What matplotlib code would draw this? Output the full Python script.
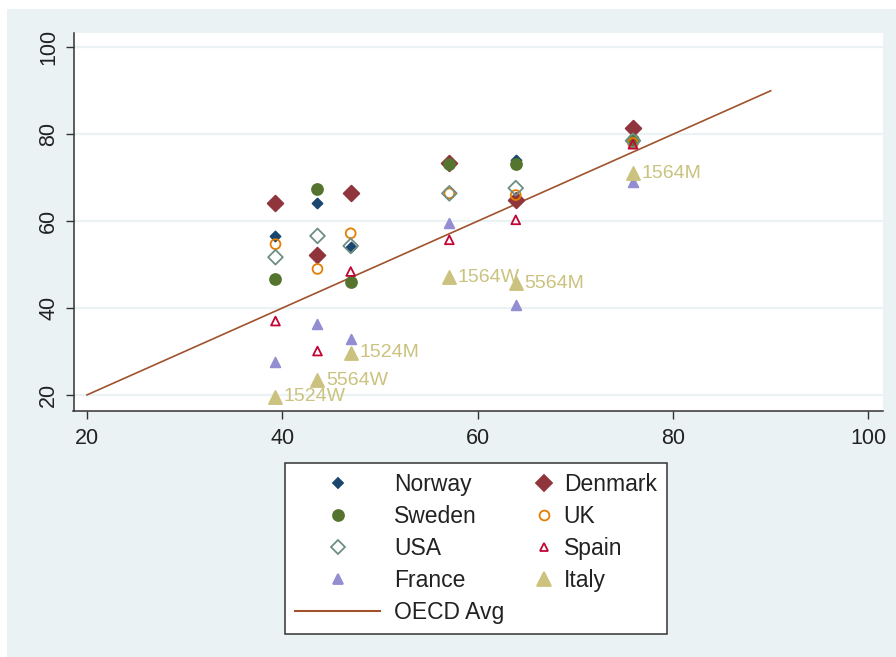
import matplotlib
matplotlib.use("Agg")
from matplotlib import pyplot as plt
from matplotlib.lines import Line2D
from matplotlib.patches import Rectangle
from matplotlib.legend_handler import HandlerLine2D

plt.rcParams['font.family'] = ['Liberation Sans', 'DejaVu Sans']

# Employment rates by age/sex group, against the OECD average for that group.
oecd_avg = [39.3, 43.6, 47.0, 57.1, 63.9, 75.9]
groups = ['1524W', '5564W', '1524M', '1564W', '5564M', '1564M']

norway = [56.6, 64.1, 54.1, 73.5, 74.0, 79.0]
denmark = [64.2, 52.2, 66.4, 73.3, 64.9, 81.5]
sweden = [46.7, 67.3, 46.1, 73.2, 73.1, 78.6]
uk = [54.7, 49.0, 57.2, 66.4, 66.0, 78.0]
usa = [51.7, 56.6, 54.3, 66.4, 67.6, 78.5]
spain = [37.0, 30.1, 48.4, 55.7, 60.3, 77.7]
france = [27.5, 36.3, 32.9, 59.6, 40.7, 69.1]
italy = [19.6, 23.4, 29.7, 47.1, 45.7, 71.0]

oecd_line_x = [20, 90]
oecd_line_y = [20, 90]

navy = '#1a476f'
maroon = '#90353b'
green = '#55752f'
orange = '#e37e00'
teal = '#6e8e84'
cranberry = '#c10534'
lavender = '#938dd2'
khaki = '#cac27e'
sienna = '#a0522d'
panel = '#eaf2f3'

fig = plt.figure(figsize=(8.96, 6.57), dpi=100)
fig.patch.set_facecolor('white')
fig.patches.append(Rectangle((7 / 896, 0), 1, 1 - 9 / 657, transform=fig.transFigure,
                             facecolor=panel, edgecolor='none', zorder=-5))

ax = fig.add_axes([73.5 / 896, 1 - 411 / 657, (883 - 73.5) / 896, (411 - 33) / 657])
ax.set_zorder(1)
ax.set_facecolor('white')

# series: (values, label, marker, size, face, edge)
series = [
    (norway, 'Norway', 'D', 26, navy, navy),
    (denmark, 'Denmark', 'D', 64, maroon, maroon),
    (sweden, 'Sweden', 'o', 62, green, green),
    (uk, 'UK', 'o', 50, 'none', orange),
    (usa, 'USA', 'D', 56, 'none', teal),
    (spain, 'Spain', '^', 40, 'none', cranberry),
    (france, 'France', '^', 48, lavender, lavender),
    (italy, 'Italy', '^', 88, khaki, khaki),
]

handles = {}
for vals, name, mk, s, fc, ec in series:
    ax.scatter(oecd_avg, vals, marker=mk, s=s, facecolors=fc, edgecolors=ec,
               linewidths=1.3, zorder=3)
    handles[name] = Line2D([], [], linestyle='None', marker=mk, markersize=s ** 0.5,
                           markerfacecolor=fc, markeredgecolor=ec, markeredgewidth=1.3)

ax.plot(oecd_line_x, oecd_line_y, color=sienna, linewidth=1.2, zorder=2)
handles['OECD Avg'] = Line2D([], [], color=sienna, linewidth=1.5)

for x, y, g in zip(oecd_avg, italy, groups):
    ax.annotate(g, (x, y), xytext=(6, 0), textcoords='offset points',
                va='center', ha='left', color=khaki, fontsize=14)

ax.set_xlim(18.62, 101.5)
ax.set_ylim(16.3, 103.3)
ax.set_xticks([20, 40, 60, 80, 100])
ax.set_yticks([20, 40, 60, 80, 100])
ax.grid(axis='y', color=panel, linewidth=1.6, zorder=1)
ax.set_axisbelow(True)

for side in ['top', 'right']:
    ax.spines[side].set_visible(False)
for side in ['left', 'bottom']:
    ax.spines[side].set_color('#333333')
    ax.spines[side].set_linewidth(1.1)

ax.tick_params(axis='both', length=5.8, width=1, color='#333333',
               labelsize=15.5, labelcolor='#222222')
ax.tick_params(axis='x', pad=6.5)
ax.tick_params(axis='y', pad=4.5, labelrotation=90)
plt.setp(ax.get_yticklabels(), va='center')


class RightMarker(HandlerLine2D):
    # second legend column keeps its symbol close to the text
    def create_artists(self, legend, orig_handle, xdescent, ydescent,
                       width, height, fontsize, trans):
        arts = super().create_artists(legend, orig_handle, xdescent, ydescent,
                                      width, height, fontsize, trans)
        y = (height - ydescent) / 2
        arts[-1].set_markevery(None)
        arts[-1].set_data([width - xdescent - 4.3], [y])
        return arts


order = ['Norway', 'Sweden', 'USA', 'France', 'OECD Avg',
         'Denmark', 'UK', 'Spain', 'Italy']
hmap = {handles[n]: RightMarker() for n in ['Denmark', 'UK', 'Spain', 'Italy']}
leg = fig.legend([handles[n] for n in order], order, ncol=2,
                 loc='upper left', bbox_to_anchor=(285 / 896, 1 - 463 / 657),
                 borderaxespad=0, fontsize=16.5, frameon=True, fancybox=False,
                 framealpha=1, handlelength=3.71, handletextpad=0.61,
                 columnspacing=-1.73, borderpad=0.44, labelspacing=0.395,
                 handler_map=hmap)
leg.get_frame().set_facecolor('white')
leg.get_frame().set_edgecolor('#333333')
leg.get_frame().set_linewidth(1.1)
for t in leg.get_texts():
    t.set_color('#222222')

fig.savefig('out.png', dpi=100)
